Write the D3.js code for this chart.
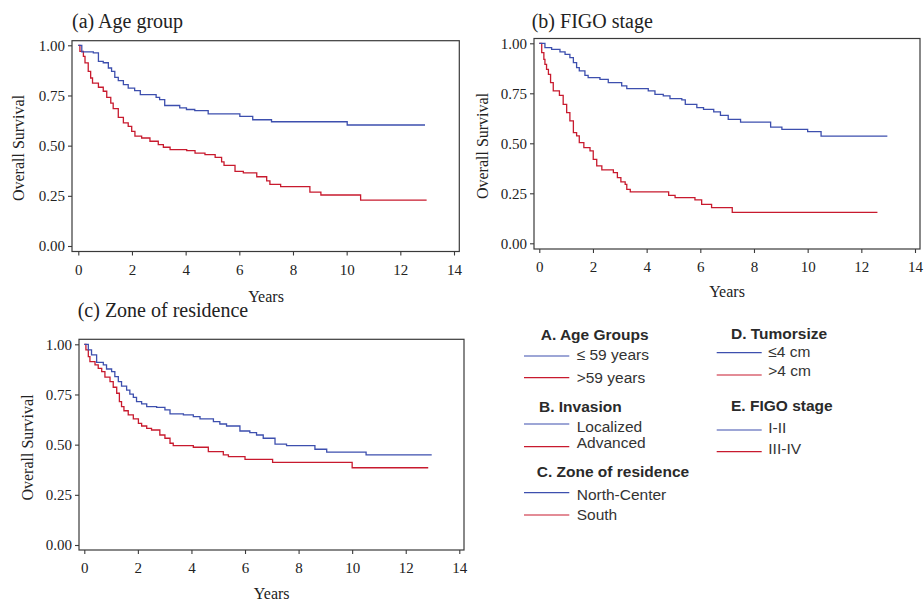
<!DOCTYPE html>
<html>
<head>
<meta charset="utf-8">
<script src="https://cdn.jsdelivr.net/npm/d3@7"></script>
<style>
body { margin: 0; background: #fff; }
</style>
</head>
<body>
<div id="chart"></div>
<script>
var yearTicks = [0, 2, 4, 6, 8, 10, 12, 14];
var survivalTicks = [0, 0.25, 0.5, 0.75, 1];

// [years, overall survival] step points
var ageLow = [[0,1],[0.13,0.967],[0.56,0.962],[0.75,0.92],[0.93,0.913],[1.12,0.887],[1.24,0.87],[1.36,0.84],[1.49,0.824],[1.68,0.804],[1.86,0.787],[2.1,0.774],[2.31,0.754],[2.9,0.741],[3.03,0.729],[3.22,0.70],[3.78,0.688],[4.03,0.68],[4.34,0.675],[4.84,0.658],[6.02,0.646],[6.5,0.629],[7.2,0.619],[10.02,0.603],[12.92,0.603]];
var ageHigh = [[0,1],[0.06,0.97],[0.19,0.945],[0.25,0.912],[0.37,0.87],[0.46,0.837],[0.53,0.812],[0.75,0.791],[0.93,0.771],[1.06,0.741],[1.21,0.712],[1.3,0.684],[1.49,0.641],[1.68,0.613],[1.86,0.596],[1.99,0.571],[2.11,0.547],[2.36,0.538],[2.67,0.522],[2.98,0.505],[3.17,0.492],[3.42,0.48],[4.04,0.475],[4.35,0.463],[4.72,0.455],[5.1,0.442],[5.34,0.419],[5.43,0.402],[5.84,0.372],[6.15,0.364],[6.65,0.345],[7.02,0.324],[7.14,0.307],[7.54,0.296],[8.63,0.268],[9.04,0.254],[10.52,0.229],[12.98,0.229]];

var figoEarly = [[0,1],[0.21,0.978],[0.46,0.97],[0.77,0.957],[0.96,0.945],[1.14,0.928],[1.27,0.903],[1.39,0.878],[1.49,0.862],[1.7,0.84],[1.82,0.828],[2.26,0.82],[2.57,0.803],[3.07,0.787],[3.26,0.773],[4.06,0.762],[4.31,0.745],[4.62,0.737],[4.87,0.723],[5.31,0.717],[5.44,0.695],[5.87,0.678],[6.12,0.67],[6.5,0.657],[6.75,0.64],[7.04,0.62],[7.5,0.606],[8.62,0.581],[9.04,0.57],[10.0,0.558],[10.5,0.536],[12.97,0.536]];
var figoLate = [[0,1],[0.09,0.953],[0.17,0.92],[0.21,0.895],[0.27,0.87],[0.34,0.845],[0.42,0.803],[0.52,0.762],[0.75,0.74],[0.89,0.695],[1.02,0.653],[1.14,0.612],[1.27,0.553],[1.39,0.537],[1.49,0.503],[1.66,0.478],[1.89,0.462],[2.01,0.42],[2.14,0.387],[2.33,0.367],[2.76,0.353],[2.91,0.328],[3.04,0.307],[3.2,0.295],[3.26,0.27],[3.39,0.257],[4.82,0.24],[5.06,0.228],[5.8,0.217],[6.05,0.195],[6.42,0.178],[7.19,0.155],[12.6,0.155]];

var zoneNorth = [[0,1],[0.15,0.972],[0.27,0.947],[0.46,0.91],[0.71,0.897],[0.83,0.877],[1.02,0.864],[1.14,0.839],[1.27,0.814],[1.39,0.792],[1.58,0.772],[1.7,0.752],[1.83,0.736],[1.95,0.714],[2.14,0.703],[2.33,0.689],[2.7,0.686],[3.01,0.673],[3.2,0.653],[3.7,0.648],[4.07,0.64],[4.32,0.628],[4.82,0.615],[5.06,0.603],[5.31,0.593],[5.81,0.568],[6.18,0.56],[6.43,0.548],[6.68,0.532],[7.12,0.503],[7.55,0.495],[8.61,0.477],[9.05,0.463],[10.52,0.449],[12.97,0.449]];
var zoneSouth = [[0,1],[0.06,0.972],[0.15,0.939],[0.21,0.914],[0.4,0.897],[0.52,0.88],[0.65,0.864],[0.77,0.836],[0.96,0.814],[1.08,0.786],[1.21,0.756],[1.31,0.714],[1.39,0.689],[1.48,0.669],[1.64,0.648],[1.83,0.628],[2.02,0.606],[2.14,0.593],[2.33,0.581],[2.51,0.573],[2.82,0.548],[3.01,0.532],[3.2,0.507],[3.32,0.495],[4.07,0.487],[4.63,0.465],[5.19,0.449],[5.38,0.44],[6.0,0.427],[7.03,0.412],[10.0,0.385],[12.84,0.385]];

var legendTitles = ["A. Age Groups", "B. Invasion", "C. Zone of residence", "D. Tumorsize", "E. FIGO stage"];
var legendLabels = [["\u2264 59 years", ">59 years"], ["Localized", "Advanced"], ["North-Center", "South"], ["\u22644 cm", ">4 cm"], ["I-II", "III-IV"]];

var blue = "#3d4fae", red = "#c81a2e";
var serif = "'Liberation Serif', 'Times New Roman', serif";
var sans = "'Liberation Sans', Arial, sans-serif";

var panels = [
	{title: "(a) Age group", blue: ageLow, red: ageHigh,
	 xRange: [78.3, 454], yRange: [246, 45.3], frame: [72, 40.7, 459.3, 251.5],
	 titlePos: [72, 28], yLabelPos: [24, 148], xLabelPos: [266, 302]},
	{title: "(b) FIGO stage", blue: figoEarly, red: figoLate,
	 xRange: [539.3, 915], yRange: [243.3, 43.3], frame: [534, 38.5, 920, 249],
	 titlePos: [531.7, 27.5], yLabelPos: [488, 146], xLabelPos: [727, 297]},
	{title: "(c) Zone of residence", blue: zoneNorth, red: zoneSouth,
	 xRange: [84.3, 459.3], yRange: [545, 344.3], frame: [79, 339.3, 464, 550],
	 titlePos: [77.7, 317.3], yLabelPos: [33, 447.5], xLabelPos: [271.7, 599]}
];

var svg = d3.select("#chart")
			.append("svg")
			.attr("width", 924)
			.attr("height", 601)
			.style("display", "block");

panels.forEach(function(p) {
	var xScale = d3.scaleLinear().domain([0, 14]).range(p.xRange);
	var yScale = d3.scaleLinear().domain([0, 1]).range(p.yRange);
	var g = svg.append("g");

	g.append("rect")
		.attr("x", p.frame[0])
		.attr("y", p.frame[1])
		.attr("width", p.frame[2] - p.frame[0])
		.attr("height", p.frame[3] - p.frame[1])
		.attr("fill", "none")
		.attr("stroke", "#3a3a3a")
		.attr("stroke-width", 1.2);

	var xAxis = d3.axisBottom(xScale).tickValues(yearTicks).tickSize(4).tickSizeOuter(0).tickPadding(8.5);
	var yAxis = d3.axisLeft(yScale).tickValues(survivalTicks).tickSize(4).tickSizeOuter(0).tickPadding(3)
					.tickFormat(d3.format(".2f"));

	g.append("g")
		.attr("transform", "translate(0," + p.frame[3] + ")")
		.call(xAxis);
	g.append("g")
		.attr("transform", "translate(" + p.frame[0] + ",0)")
		.call(yAxis);
	g.selectAll(".domain").remove();
	g.selectAll(".tick line").attr("stroke", "#3a3a3a").attr("stroke-width", 1.1);
	g.selectAll(".tick text")
		.attr("fill", "#222")
		.style("font-family", serif)
		.style("font-size", "15px");

	var line = d3.line()
				.x(function(d) { return xScale(d[0]); })
				.y(function(d) { return yScale(d[1]); })
				.curve(d3.curveStepAfter);

	g.append("path").datum(p.red)
		.attr("d", line).attr("fill", "none").attr("stroke", red).attr("stroke-width", 1.3);
	g.append("path").datum(p.blue)
		.attr("d", line).attr("fill", "none").attr("stroke", blue).attr("stroke-width", 1.3);

	g.append("text")
		.text(p.title)
		.attr("x", p.titlePos[0])
		.attr("y", p.titlePos[1])
		.attr("fill", "#222")
		.style("font-family", serif)
		.style("font-size", "20px");

	g.append("text")
		.text("Overall Survival")
		.attr("text-anchor", "middle")
		.attr("transform", "translate(" + p.yLabelPos[0] + "," + p.yLabelPos[1] + ") rotate(-90)")
		.attr("fill", "#222")
		.style("font-family", serif)
		.style("font-size", "16px");

	g.append("text")
		.text("Years")
		.attr("text-anchor", "middle")
		.attr("x", p.xLabelPos[0])
		.attr("y", p.xLabelPos[1])
		.attr("fill", "#222")
		.style("font-family", serif)
		.style("font-size", "16px");
});

/* legend block: header position, line span, then line y / text baseline per item */
var legendLayout = [
	{head: [540.7, 340], line: [524, 569.3], textX: 576.7, items: [[356, 360], [377.7, 383]]},
	{head: [539, 411.7], line: [524, 569.3], textX: 576.7, items: [[424, 431.7], [446.7, 448.3]]},
	{head: [536.7, 476.7], line: [524, 569.3], textX: 576.7, items: [[492.7, 500], [515, 520]]},
	{head: [731, 339], line: [716.7, 761.7], textX: 768.3, items: [[352.7, 356.7], [375, 376]]},
	{head: [731, 411], line: [716.7, 761.7], textX: 768.3, items: [[430, 433.3], [451.7, 454.3]]}
];
var legendColors = [blue, red];

var legend = svg.append("g").attr("class", "legend");
legendTitles.forEach(function(t, i) {
	var lay = legendLayout[i];
	legend.append("text")
		.text(t)
		.attr("x", lay.head[0])
		.attr("y", lay.head[1])
		.attr("fill", "#2a2a2a")
		.style("font-family", sans)
		.style("font-weight", "bold")
		.style("font-size", "15.5px");
	legendLabels[i].forEach(function(lbl, j) {
		legend.append("line")
			.attr("x1", lay.line[0]).attr("x2", lay.line[1])
			.attr("y1", lay.items[j][0]).attr("y2", lay.items[j][0])
			.attr("stroke", legendColors[j])
			.attr("stroke-width", 1.2);
		legend.append("text")
			.text(lbl)
			.attr("x", lay.textX)
			.attr("y", lay.items[j][1])
			.attr("fill", "#333")
			.style("font-family", sans)
			.style("font-size", "15.5px");
	});
});
</script>
</body>
</html>
